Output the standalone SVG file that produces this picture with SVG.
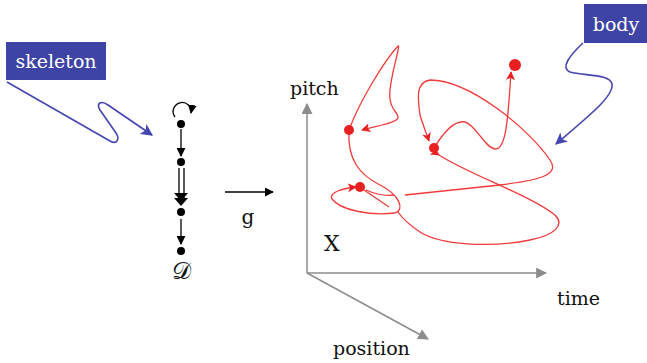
<svg xmlns="http://www.w3.org/2000/svg" width="647" height="363" viewBox="0 0 647 363">
<style>
.t{font-family:'DejaVu Serif',serif;fill:#111}
.lbl{font-family:'DejaVu Serif',serif;fill:#fff;font-size:19px}
.red{fill:none;stroke:#f03a3a;stroke-width:1.3}
.blue{fill:none;stroke:#4545b0;stroke-width:1.6}
.ax{stroke:#8c8c8c;stroke-width:1.5;fill:none}
.blk{stroke:#000;stroke-width:1.3;fill:none}
.dot{fill:#000}
.rdot{fill:#e82020}
</style>
<defs>
<marker id="ar" viewBox="0 0 10 10" refX="9" refY="5" markerWidth="9" markerHeight="9" markerUnits="userSpaceOnUse" orient="auto"><path d="M0,0 L10,5 L0,10 L2.5,5 z" fill="#e82020"/></marker>
<marker id="ab" viewBox="0 0 10 10" refX="9" refY="5" markerWidth="12" markerHeight="12" markerUnits="userSpaceOnUse" orient="auto"><path d="M0,0 L10,5 L0,10 L2.5,5 z" fill="#4545b0"/></marker>
<marker id="ak" viewBox="0 0 10 10" refX="9" refY="5" markerWidth="9" markerHeight="9" markerUnits="userSpaceOnUse" orient="auto"><path d="M0,0 L10,5 L0,10 z" fill="#000"/></marker>
<marker id="ag" viewBox="0 0 10 10" refX="9" refY="5" markerWidth="11" markerHeight="11" markerUnits="userSpaceOnUse" orient="auto"><path d="M0,0 L10,5 L0,10 z" fill="#8c8c8c"/></marker>
</defs>

<g id="skeleton-label">
<rect x="6" y="42" width="100" height="38" fill="#3d44a6"/>
<text class="lbl" x="56" y="68" text-anchor="middle">skeleton</text>
</g>
<g id="body-label">
<rect x="584" y="4" width="63" height="39" fill="#3d44a6"/>
<text class="lbl" x="616" y="31" text-anchor="middle">body</text>
</g>

<g id="skeleton">
<path class="blk" d="M175,117 A9,9 0 1 1 191,113" marker-end="url(#ak)"/>
<circle class="dot" cx="181" cy="124" r="4"/>
<circle class="dot" cx="181" cy="162" r="4"/>
<circle class="dot" cx="181" cy="212" r="4"/>
<circle class="dot" cx="181" cy="251" r="4"/>
<path class="blk" d="M181,129 L181,156" marker-end="url(#ak)"/>
<path class="blk" d="M179,168 L179,199 M184,168 L184,199"/>
<path d="M174,193 L181,201 L188,193 z M174,198 L181,206 L188,198 z" fill="#000"/>
<path class="blk" d="M181,219 L181,244" marker-end="url(#ak)"/>
<text class="t" x="181" y="279" font-size="24" text-anchor="middle">𝒟</text>
</g>

<g id="g-map">
<path class="blk" d="M225,192 L273,192" marker-end="url(#ak)"/>
<text class="t" x="248" y="224" font-size="20" text-anchor="middle">g</text>
</g>

<g id="axes">
<path class="ax" d="M307,273 L307,104" marker-end="url(#ag)"/>
<path class="ax" d="M307,273 L546,273" marker-end="url(#ag)"/>
<path class="ax" d="M307,273 L428,339" marker-end="url(#ag)"/>
<text class="t" x="290" y="95" font-size="19">pitch</text>
<text class="t" x="557" y="305" font-size="19">time</text>
<text class="t" x="333" y="355" font-size="19">position</text>
<text class="t" x="324" y="251" font-size="22">X</text>
</g>

<g id="body">
<path class="red" d="M349,130 C360,100 385,60 398,46 C401,44 392,70 390,90 C388,110 399,112 398,118 C395,124 375,126 362,130" marker-end="url(#ar)"/>
<path class="red" d="M349,130 C347,160 360,175 380,185 C400,195 405,210 395,213 C370,216 340,210 332,199 C328,192 345,188 356,187" marker-end="url(#ar)"/>
<path class="red" d="M364,190 L389,207"/>
<path class="red" d="M366,190 C375,194 386,196 394,195 M405,195 L500,185 C540,180 560,175 550,160 C530,130 470,80 430,80 C415,82 418,100 420,115 C423,125 427,135 429,141" marker-end="url(#ar)"/>
<path class="red" d="M434,148 C445,130 455,120 465,122 C475,124 485,148 495,149 C506,150 508,120 511,72" marker-end="url(#ar)"/>
<path class="red" d="M439,155 C470,175 530,195 555,215 C565,225 555,235 530,240 C490,248 440,245 420,232 C405,222 400,215 398,212" marker-start="url(#ar)"/>
<circle class="rdot" cx="349" cy="130" r="5"/>
<circle class="rdot" cx="434" cy="148" r="5"/>
<circle class="rdot" cx="360" cy="187" r="5"/>
<circle class="rdot" cx="515" cy="65" r="6"/>
</g>

<g id="connectors">
<path class="blue" d="M7,82 L110,141 C117,145 120,139 116,133 L100,110 C96,103 101,100 108,105 L152,135" marker-end="url(#ab)"/>
<path class="blue" d="M583,43 C570,55 560,68 570,72 C585,76 610,74 612,84 C614,96 590,115 556,144" marker-end="url(#ab)"/>
</g>
</svg>
